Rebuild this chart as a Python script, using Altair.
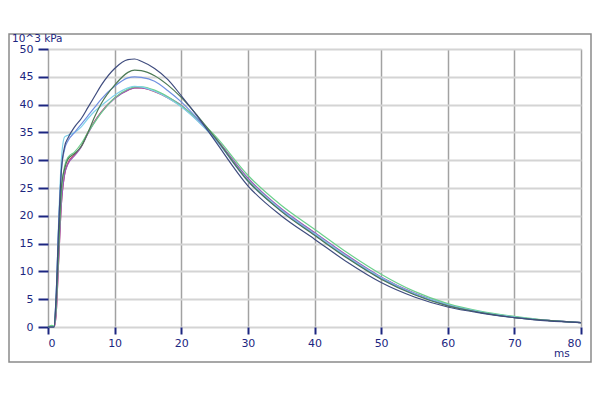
import altair as alt
import pandas as pd

# time axis (ms)
t_ms = [0, 0.5, 0.9, 1.2, 1.6, 2.0, 2.5, 3.0, 4, 5, 6, 7, 8, 10, 12, 13, 14, 16, 18, 20,
        22.5, 25, 30, 35, 40, 45, 50, 55, 60, 65, 70, 75, 80]

# pressure (10^3 kPa) per trace
navy = [0, 0, 0, 5, 18, 28, 32.5, 34, 36, 37.5, 39.5, 41.5, 43.5, 46.5, 48.1, 48.2, 47.8, 46.5, 44.5, 41.6,
        37.8, 33.6, 25.4, 20.0, 15.8, 11.6, 8.0, 5.4, 3.6, 2.5, 1.7, 1.1, 0.8]
darkgreen = [0, 0, 0, 4, 15, 25, 28.5, 30.2, 31.2, 32.5, 35, 37.8, 40.2, 43.5, 45.8, 46.2, 46.1, 45.2, 43.5, 41.3,
             37.9, 34.2, 26.3, 20.8, 16.5, 12.3, 8.6, 5.8, 3.8, 2.6, 1.7, 1.2, 0.8]
blue = [0, 0, 0, 5, 18, 28, 32, 33.5, 35, 36.5, 38, 39.5, 41, 43.3, 44.8, 45, 44.9, 44.2, 42.5, 40.5,
        37.4, 34.0, 26.2, 20.9, 16.6, 12.4, 8.7, 5.9, 3.9, 2.6, 1.7, 1.2, 0.8]
cyan = [0, 0, 0, 5, 19, 30, 34.2, 34.5, 35, 36, 37.5, 38.8, 39.8, 41.7, 43, 43.3, 43.2, 42.4, 41.2, 39.6,
        37.0, 33.9, 26.5, 21.1, 16.8, 12.6, 8.9, 6.0, 4.0, 2.7, 1.8, 1.2, 0.8]
green = [0, 0.3, 0.2, 3, 14, 24, 29, 30.5, 31.5, 33, 35, 36.8, 38.5, 41.2, 42.8, 43.2, 43.2, 42.6, 41.4, 39.8,
         37.4, 34.5, 27.3, 21.9, 17.6, 13.3, 9.5, 6.4, 4.2, 2.8, 1.9, 1.2, 0.8]
purple = [0, 0, 0, 2, 12, 22, 27.5, 29.3, 30.8, 32.4, 34.8, 36.9, 38.6, 41.1, 42.6, 43, 43, 42.4, 41.3, 39.9,
          37.2, 34.2, 26.8, 21.3, 17.0, 12.8, 9.0, 6.1, 4.0, 2.7, 1.8, 1.2, 0.8]
red = [0, 0, 0, 2, 12, 22, 27.5, 29.5, 31, 32.5, 35, 37, 38.7, 41.2, 42.6, 43, 43, 42.3, 41.2, 39.7,
       37.1, 34.1, 26.6, 21.2, 16.9, 12.7, 8.9, 6.0, 4.0, 2.7, 1.8, 1.2, 0.8]

series = {
    "red": red, "purple": purple, "green": green, "cyan": cyan,
    "blue": blue, "darkgreen": darkgreen, "navy": navy,
}
names = list(series.keys())
colors = ["#cc3a60", "#9a5ab8", "#6cd08c", "#7fd2ea", "#6f8fe0", "#4c7a55", "#3f4c7e"]

rows = []
for name, vals in series.items():
    for t, v in zip(t_ms, vals):
        rows.append({"t": t, "p": v, "s": name})
df = pd.DataFrame(rows)

x_ticks = [0, 10, 20, 30, 40, 50, 60, 70, 80]
y_ticks = [0, 5, 10, 15, 20, 25, 30, 35, 40, 45, 50]
y_title = ["10^3 kPa"]
x_title = ["ms"]

navy_txt = "#1c2680"

lines = alt.Chart(df).mark_line(strokeWidth=1.2, interpolate="monotone").encode(
    x=alt.X("t:Q", scale=alt.Scale(domain=[0, 80], nice=False),
            axis=alt.Axis(values=x_ticks, title=None, domain=False, grid=True,
                          gridColor="#a2a2a2", gridWidth=1.5,
                          tickColor=navy_txt, tickWidth=2, tickSize=7,
                          labelColor=navy_txt, labelFont="DejaVu Sans", labelFontSize=11,
                          labelPadding=3)),
    y=alt.Y("p:Q", scale=alt.Scale(domain=[0, 50], nice=False),
            axis=alt.Axis(values=y_ticks, title=None, domain=False, grid=True,
                          gridColor="#d4d4d4", gridWidth=2,
                          tickColor=navy_txt, tickWidth=2, tickSize=10,
                          labelColor=navy_txt, labelFont="DejaVu Sans", labelFontSize=11,
                          labelPadding=5)),
    color=alt.Color("s:N", scale=alt.Scale(domain=names, range=colors), legend=None),
    order=alt.Order("s:N"),
)

one = pd.DataFrame({"ytitle": y_title, "xtitle": x_title})

border = alt.Chart(one).mark_rect(fill=None, stroke="#8a8a8a", strokeWidth=1.5).encode(
    x=alt.value(-39), x2=alt.value(543), y=alt.value(-15), y2=alt.value(313)
)

ytitle = alt.Chart(one).mark_text(align="left", baseline="middle",
                                  font="DejaVu Sans", fontSize=10.5, color=navy_txt).encode(
    text="ytitle:N", x=alt.value(-36), y=alt.value(-10)
)
xtitle = alt.Chart(one).mark_text(align="left", baseline="middle",
                                  font="DejaVu Sans", fontSize=10.5, color=navy_txt).encode(
    text="xtitle:N", x=alt.value(506), y=alt.value(305)
)

chart = alt.layer(lines, border, ytitle, xtitle).properties(
    width=533, height=278,
    autosize=alt.AutoSizeParams(type="none"),
    padding={"left": 40, "top": 41, "right": 11, "bottom": 40},
).configure_view(stroke=None).configure(background="white")

chart.save("out.html", embed_options={"renderer": "svg", "actions": False})
